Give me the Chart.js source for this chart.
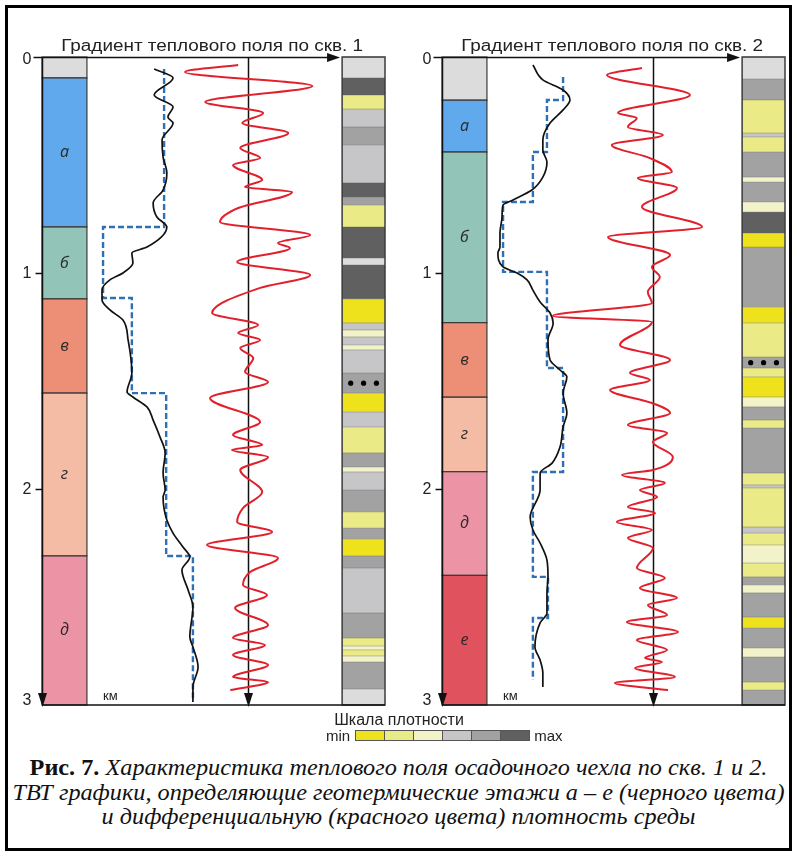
<!DOCTYPE html>
<html>
<head>
<meta charset="utf-8">
<script src="https://cdn.jsdelivr.net/npm/chart.js@4.4.1/dist/chart.umd.min.js"></script>
<style>
  html, body { margin: 0; padding: 0; background: #fff; }
  body { width: 797px; height: 856px; position: relative; overflow: hidden; font-family: 'Liberation Sans', Arial, sans-serif; }
  #frame { position: absolute; left: 5px; top: 5px; width: 781px; height: 840px; border: 3px solid #000; }
  .panel { position: absolute; top: 0; width: 400px; height: 720px; }
  #p1 { left: 0; }
  #p2 { left: 400px; }
  #scaleTitle { position: absolute; left: 299px; width: 200px; top: 710px; text-align: center; font-size: 16px; line-height: 20px; color: #222; }
  #scaleRow { position: absolute; left: 326px; top: 726px; height: 18px; display: flex; align-items: center; font-size: 15px; color: #222; }
  #scaleRow .sw { width: 28px; height: 9px; border: 1px solid #555; margin-left: -1px; }
  #scaleRow .lab1 { margin-right: 6px; }
  #scaleRow .lab2 { margin-left: 4px; }
  #caption { position: absolute; left: 0; width: 797px; top: 756px; text-align: center; font-family: 'Liberation Serif', 'Times New Roman', Tinos, serif; font-size: 23px; line-height: 24.5px; color: #111; white-space: nowrap; transform-origin: 399px 0; }
  #caption i { font-style: italic; }
</style>
</head>
<body>
<div id="frame"></div>
<div class="panel" id="p1"><canvas id="well1" width="400" height="720"></canvas></div>
<div class="panel" id="p2"><canvas id="well2" width="400" height="720"></canvas></div>
<div id="scaleTitle">Шкала плотности</div>
<div id="scaleRow"></div>
<div id="caption">
  <div><span class="ln"><b>Рис. 7.</b> <i>Характеристика теплового поля осадочного чехла по скв. 1 и 2.</i></span></div>
  <div><span class="ln" id="ln2"><i>ТВТ графики, определяющие геотермические этажи а – е (черного цвета)</i></span></div>
  <div><span class="ln"><i>и дифференциальную (красного цвета) плотность среды</i></span></div>
</div>
<script>
// depth axis, km
const depthTicks = [0, 1, 2, 3];

// ---- скв. 1 ----
const strat1Names = ['', 'а', 'б', 'в', 'г', 'д'];
const strat1Tops = [0, 0.097, 0.787, 1.12, 1.556, 2.31];

const tvt1Depth = [0.056, 0.097, 0.176, 0.231, 0.278, 0.306, 0.384, 0.463, 0.537, 0.616, 0.676, 0.741, 0.787, 0.88, 0.907, 0.954, 1.0, 1.032, 1.079, 1.125, 1.171, 1.218, 1.31, 1.463, 1.551, 1.574, 1.62, 1.681, 1.759, 1.833, 1.926, 2.005, 2.037, 2.144, 2.204, 2.269, 2.315, 2.375, 2.468, 2.546, 2.685, 2.731, 2.824, 2.917, 2.986];
const tvt1Value = [32.7, 38.2, 32.7, 38.2, 36.7, 38.2, 35.0, 35.3, 36.4, 35.3, 32.4, 33.5, 36.4, 30.6, 26.2, 26.5, 23.6, 19.8, 17.5, 17.5, 19.8, 23.6, 25.1, 26.2, 24.8, 26.5, 30.6, 32.4, 34.4, 35.9, 35.3, 35.9, 35.3, 36.4, 38.2, 41.1, 43.1, 40.8, 42.6, 44.0, 43.1, 44.0, 45.5, 44.0, 44.0];

const step1Depth = [0.056, 0.787, 1.116, 1.556, 2.31, 2.977];
const step1Value = [35.6, 17.8, 26.2, 36.2, 44.0];

const diff1Depth = [0.037, 0.069, 0.134, 0.208, 0.259, 0.306, 0.352, 0.421, 0.468, 0.5, 0.569, 0.602, 0.625, 0.699, 0.764, 0.824, 0.861, 0.884, 0.949, 1.009, 1.069, 1.185, 1.241, 1.278, 1.31, 1.347, 1.394, 1.458, 1.505, 1.579, 1.69, 1.75, 1.796, 1.819, 1.852, 1.912, 2.014, 2.088, 2.153, 2.199, 2.259, 2.319, 2.384, 2.444, 2.491, 2.551, 2.63, 2.69, 2.722, 2.769, 2.815, 2.87, 2.894, 2.931];
const diff1Value = [-2.9, -18.4, 18.7, -12.5, 4.4, -1.7, 11.7, -2.3, 3.5, -4.4, 4.1, -0.9, 12.8, -2.9, -8.2, 18.1, 8.7, 12.2, -3.2, 18.1, 3.5, -10.5, 2.9, -2.9, 3.5, -2.3, 1.5, -0.9, 5.8, -11.1, 3.5, -4.4, 4.1, -4.7, 5.8, -2.3, 4.1, -1.5, -3.2, 7.0, -12.0, 8.7, 0.6, -1.5, 5.5, -3.8, 5.8, -4.4, 4.9, -4.4, 5.8, -4.4, 5.8, -5.2];

// density class: 0 = min ... 5 = max, 6 = no data
const dens1Tops = [0, 0.097, 0.176, 0.241, 0.324, 0.407, 0.583, 0.648, 0.685, 0.787, 0.931, 0.963, 1.12, 1.231, 1.264, 1.296, 1.333, 1.356, 1.463, 1.556, 1.644, 1.713, 1.833, 1.898, 1.921, 2.005, 2.106, 2.181, 2.231, 2.31, 2.366, 2.574, 2.69, 2.727, 2.745, 2.773, 2.801, 2.926];
const dens1Class = [6, 5, 1, 3, 4, 3, 5, 4, 1, 5, 6, 5, 0, 3, 2, 3, 2, 3, 4, 0, 3, 1, 4, 2, 3, 4, 1, 4, 0, 4, 3, 4, 1, 2, 1, 2, 4, 6];
const dots1Depth = 1.51;

// ---- скв. 2 ----
const strat2Names = ['', 'а', 'б', 'в', 'г', 'д', 'е'];
const strat2Tops = [0, 0.2, 0.44, 1.23, 1.575, 1.92, 2.4];

const tvt2Depth = [0.037, 0.106, 0.153, 0.199, 0.245, 0.306, 0.384, 0.431, 0.486, 0.556, 0.616, 0.662, 0.685, 0.741, 0.815, 0.88, 0.907, 0.972, 1.0, 1.032, 1.079, 1.134, 1.185, 1.231, 1.31, 1.403, 1.449, 1.481, 1.556, 1.648, 1.713, 1.806, 1.88, 1.926, 2.005, 2.13, 2.19, 2.25, 2.329, 2.407, 2.481, 2.574, 2.62, 2.731, 2.792, 2.852, 2.917];
const tvt2Value = [26.5, 29.4, 35.3, 37.3, 35.3, 31.5, 29.4, 29.4, 30.6, 29.4, 26.2, 20.7, 17.8, 17.5, 16.9, 16.9, 16.3, 17.8, 21.9, 24.8, 26.5, 28.6, 31.5, 32.4, 30.9, 31.5, 34.4, 36.4, 35.3, 36.4, 35.3, 34.4, 32.1, 28.6, 28.6, 25.7, 26.5, 28.6, 30.6, 30.9, 30.6, 30.6, 28.6, 27.1, 28.6, 29.4, 29.4];

const step2Depth = [0.093, 0.199, 0.44, 0.671, 0.995, 1.44, 1.921, 2.407, 2.597, 2.884];
const step2Value = [35.3, 30.6, 26.5, 17.8, 30.6, 35.3, 26.5, 30.9, 26.5];

const diff2Depth = [0.051, 0.083, 0.176, 0.259, 0.282, 0.324, 0.361, 0.407, 0.468, 0.532, 0.56, 0.606, 0.694, 0.787, 0.833, 0.917, 0.972, 1.019, 1.088, 1.139, 1.199, 1.227, 1.333, 1.403, 1.463, 1.495, 1.542, 1.602, 1.648, 1.704, 1.741, 1.782, 1.852, 1.912, 1.935, 1.972, 2.005, 2.037, 2.083, 2.111, 2.153, 2.19, 2.227, 2.273, 2.366, 2.412, 2.458, 2.505, 2.537, 2.583, 2.616, 2.662, 2.699, 2.745, 2.782, 2.801, 2.829, 2.87, 2.898, 2.931];
const diff2Value = [-3.2, -13.4, 10.8, -10.2, -4.7, -7.3, 2.9, -12.0, -0.9, 5.5, -4.4, 7.0, -3.2, 14.3, -13.1, 5.0, -0.3, 2.0, -1.5, -0.3, -29.2, -0.3, -9.6, 5.0, -6.7, -0.9, -12.5, -0.3, 5.0, -7.3, 4.1, 0.0, 5.8, 0.0, -9.0, 3.5, -3.8, 1.2, -7.3, 0.6, -10.5, -0.3, -7.3, 0.0, -4.7, 3.5, -3.8, 7.0, -1.5, 4.1, -7.6, 7.3, -4.7, 4.1, -2.3, 2.6, -5.2, 6.4, -11.1, 4.4];

const dens2Tops = [0, 0.102, 0.199, 0.352, 0.37, 0.44, 0.556, 0.579, 0.671, 0.718, 0.815, 0.88, 1.157, 1.231, 1.389, 1.44, 1.481, 1.574, 1.62, 1.681, 1.718, 1.926, 1.981, 1.995, 2.176, 2.204, 2.259, 2.343, 2.407, 2.444, 2.481, 2.593, 2.644, 2.736, 2.778, 2.894, 2.931];
const dens2Class = [6, 4, 1, 3, 1, 4, 2, 4, 2, 5, 0, 4, 0, 1, 4, 1, 0, 2, 4, 1, 4, 1, 3, 1, 3, 1, 2, 1, 4, 2, 4, 0, 4, 2, 4, 1, 4];
const dots2Depth = 1.415;

// ---- styles ----
const stratColors = { '': '#dcdcdc', 'а': '#5fa9ec', 'б': '#92c5b7', 'в': '#ec8f76', 'г': '#f4bba5', 'д': '#ec93a6', 'е': '#e1525f' };
const densColors = ['#eee21c', '#eaea86', '#f3f3ca', '#c6c6c9', '#a2a2a2', '#606060', '#dcdcdc'];
const SANS = "'Liberation Sans', Arial, sans-serif";
const STRAT_W = 13.1;   // strat column width, x units
const DENS_X = 87.5;    // density column left edge, x units
const DEPTH_MAX = 3;

const zip = (d, v) => d.map((y, i) => ({ x: v[i], y: y }));
function stepPoints(d, v) {
  const pts = [];
  v.forEach((val, i) => {
    pts.push({ x: val, y: d[i] });
    pts.push({ x: val, y: d[i + 1] });
  });
  return pts;
}

function fitText(ctx, text, cx, y, width) {
  const w = ctx.measureText(text).width;
  ctx.save();
  ctx.translate(cx, y);
  ctx.scale(width / w, 1);
  ctx.textAlign = 'center';
  ctx.fillText(text, 0, 0);
  ctx.restore();
}

function wellPlugin(w) {
  return {
    id: 'well',
    beforeDatasetsDraw(chart) {
      const { ctx } = chart;
      const x = chart.scales.x, y = chart.scales.y, xr = chart.scales.xr;
      const y3 = y.getPixelForValue(DEPTH_MAX);
      ctx.save();
      // density column
      const dx0 = x.getPixelForValue(DENS_X), dx1 = x.getPixelForValue(100);
      w.densTops.forEach((top, i) => {
        const bot = i + 1 < w.densTops.length ? w.densTops[i + 1] : DEPTH_MAX;
        const y0 = y.getPixelForValue(top), y1 = y.getPixelForValue(bot);
        ctx.fillStyle = densColors[w.densClass[i]];
        ctx.fillRect(dx0, y0, dx1 - dx0, y1 - y0);
        ctx.strokeStyle = 'rgba(90,90,90,0.45)';
        ctx.lineWidth = 0.8;
        ctx.beginPath();
        ctx.moveTo(dx0, y0); ctx.lineTo(dx1, y0);
        ctx.stroke();
      });
      ctx.strokeStyle = '#3c3c3c';
      ctx.lineWidth = 1.5;
      ctx.strokeRect(dx0, y.getPixelForValue(0), dx1 - dx0, y3 - y.getPixelForValue(0));

      // strat column
      const sx0 = x.getPixelForValue(0), sx1 = x.getPixelForValue(STRAT_W);
      w.stratTops.forEach((top, i) => {
        const bot = i + 1 < w.stratTops.length ? w.stratTops[i + 1] : DEPTH_MAX;
        const y0 = y.getPixelForValue(top), y1 = y.getPixelForValue(bot);
        ctx.fillStyle = stratColors[w.stratNames[i]];
        ctx.fillRect(sx0, y0, sx1 - sx0, y1 - y0);
        ctx.strokeStyle = '#3a3a3a';
        ctx.lineWidth = 1.2;
        ctx.strokeRect(sx0, y0, sx1 - sx0, y1 - y0);
        if (w.stratNames[i]) {
          ctx.fillStyle = '#2a2a2a';
          ctx.font = "italic 16px 'Open Sans', " + SANS;
          ctx.textAlign = 'center';
          ctx.textBaseline = 'middle';
          ctx.fillText(w.stratNames[i], (sx0 + sx1) / 2, (y0 + y1) / 2);
        }
      });

      // centre line of the differential density curve
      const cx = Math.round(xr.getPixelForValue(0)) + 0.5;
      ctx.strokeStyle = '#111';
      ctx.lineWidth = 1.5;
      ctx.beginPath();
      ctx.moveTo(cx, y.getPixelForValue(0));
      ctx.lineTo(cx, y3 - 8);
      ctx.stroke();
      ctx.fillStyle = '#111';
      ctx.beginPath();
      ctx.moveTo(cx, y3 + 2);
      ctx.lineTo(cx - 4.5, y3 - 12);
      ctx.lineTo(cx + 4.5, y3 - 12);
      ctx.closePath();
      ctx.fill();
      ctx.restore();
    },
    afterDraw(chart) {
      const { ctx } = chart;
      const x = chart.scales.x, y = chart.scales.y;
      const ax = Math.round(x.getPixelForValue(0)) + 0.5;
      const y0 = Math.round(y.getPixelForValue(0)) + 0.5;
      const y3 = y.getPixelForValue(DEPTH_MAX);
      ctx.save();
      ctx.strokeStyle = '#111';
      ctx.fillStyle = '#111';
      // bottom frame line
      ctx.lineWidth = 1.5;
      ctx.beginPath();
      ctx.moveTo(ax, y3); ctx.lineTo(x.getPixelForValue(100), y3);
      ctx.stroke();
      // depth axis with arrow
      ctx.beginPath();
      ctx.moveTo(ax, y0); ctx.lineTo(ax, y3 - 8);
      ctx.stroke();
      ctx.beginPath();
      ctx.moveTo(ax, y3 + 2); ctx.lineTo(ax - 4.5, y3 - 12); ctx.lineTo(ax + 4.5, y3 - 12);
      ctx.closePath(); ctx.fill();
      // gradient axis (top) with arrow
      const tip = x.getPixelForValue(86.9);
      ctx.beginPath();
      ctx.moveTo(ax - 9, y0); ctx.lineTo(tip - 8, y0);
      ctx.stroke();
      ctx.beginPath();
      ctx.moveTo(tip, y0); ctx.lineTo(tip - 13, y0 - 4.5); ctx.lineTo(tip - 13, y0 + 4.5);
      ctx.closePath(); ctx.fill();
      // ticks and labels
      ctx.font = '16px ' + SANS;
      ctx.fillStyle = '#222';
      ctx.textAlign = 'right';
      ctx.textBaseline = 'middle';
      depthTicks.forEach(t => {
        let py = y.getPixelForValue(t);
        if (t > 0 && t < DEPTH_MAX) {
          ctx.beginPath();
          ctx.moveTo(ax - 7, Math.round(py) + 0.5); ctx.lineTo(ax, Math.round(py) + 0.5);
          ctx.stroke();
        }
        if (t === DEPTH_MAX) py -= 5;
        if (t === 0) py += 2;
        ctx.fillText(String(t), ax - 11, py + 1);
      });
      // units
      ctx.font = '13px ' + SANS;
      ctx.textAlign = 'left';
      ctx.textBaseline = 'alphabetic';
      ctx.fillText('км', x.getPixelForValue(17.8), y3 - 5);
      // title
      ctx.font = '16px ' + SANS;
      ctx.textBaseline = 'alphabetic';
      fitText(ctx, w.title, x.getPixelForValue(49.6), y0 - 7, 302);
      ctx.restore();
    }
  };
}

function makeWell(id, w) {
  const dots = [90, 93.75, 97.5].map(v => ({ x: v, y: w.dotsDepth }));
  return new Chart(document.getElementById(id), {
    type: 'line',
    data: {
      datasets: [
        {
          data: zip(w.diffDepth, w.diffValue),
          xAxisID: 'xr',
          borderColor: '#e2202c',
          borderWidth: 2,
          cubicInterpolationMode: 'monotone',
          pointRadius: 0,
          order: 0
        },
        {
          data: zip(w.tvtDepth, w.tvtValue),
          xAxisID: 'x',
          borderColor: '#111111',
          borderWidth: 1.7,
          cubicInterpolationMode: 'monotone',
          pointRadius: 0,
          order: 1
        },
        {
          data: stepPoints(w.stepDepth, w.stepValue),
          xAxisID: 'x',
          borderColor: '#2f6fb6',
          borderWidth: 2.4,
          borderDash: [6, 3],
          tension: 0,
          pointRadius: 0,
          order: 2
        },
        {
          data: dots,
          xAxisID: 'x',
          showLine: false,
          pointRadius: 2.6,
          pointBorderWidth: 0,
          pointBackgroundColor: '#000',
          order: 3
        }
      ]
    },
    options: {
      indexAxis: 'y',
      responsive: false,
      animation: false,
      layout: { padding: { left: 42, top: 57, right: 15, bottom: 15 } },
      plugins: { legend: { display: false }, tooltip: { enabled: false } },
      scales: {
        x: { type: 'linear', min: 0, max: 100, display: false },
        xr: { type: 'linear', axis: 'x', min: -w.centre, max: 100 - w.centre, display: false },
        y: { type: 'linear', min: 0, max: DEPTH_MAX, reverse: true, display: false }
      }
    },
    plugins: [wellPlugin(w)]
  });
}

function draw() {
  makeWell('well1', {
    title: 'Градиент теплового поля по скв. 1', centre: 60.1,
    stratNames: strat1Names, stratTops: strat1Tops,
    tvtDepth: tvt1Depth, tvtValue: tvt1Value,
    stepDepth: step1Depth, stepValue: step1Value,
    diffDepth: diff1Depth, diffValue: diff1Value,
    densTops: dens1Tops, densClass: dens1Class, dotsDepth: dots1Depth
  });
  makeWell('well2', {
    title: 'Градиент теплового поля по скв. 2', centre: 61.5,
    stratNames: strat2Names, stratTops: strat2Tops,
    tvtDepth: tvt2Depth, tvtValue: tvt2Value,
    stepDepth: step2Depth, stepValue: step2Value,
    diffDepth: diff2Depth, diffValue: diff2Value,
    densTops: dens2Tops, densClass: dens2Class, dotsDepth: dots2Depth
  });

  // density legend
  const row = document.getElementById('scaleRow');
  let html = '<span class="lab1">min</span>';
  densColors.slice(0, 6).forEach(c => { html += '<span class="sw" style="background:' + c + '"></span>'; });
  html += '<span class="lab2">max</span>';
  row.innerHTML = html;

  // caption is stretched to the width of the original print
  const cap = document.getElementById('caption');
  const w2 = document.getElementById('ln2').getBoundingClientRect().width;
  cap.style.transform = 'scaleX(' + (772 / w2) + ')';
}

if (document.fonts && document.fonts.ready) {
  document.fonts.ready.then(draw);
} else {
  draw();
}
</script>
</body>
</html>
